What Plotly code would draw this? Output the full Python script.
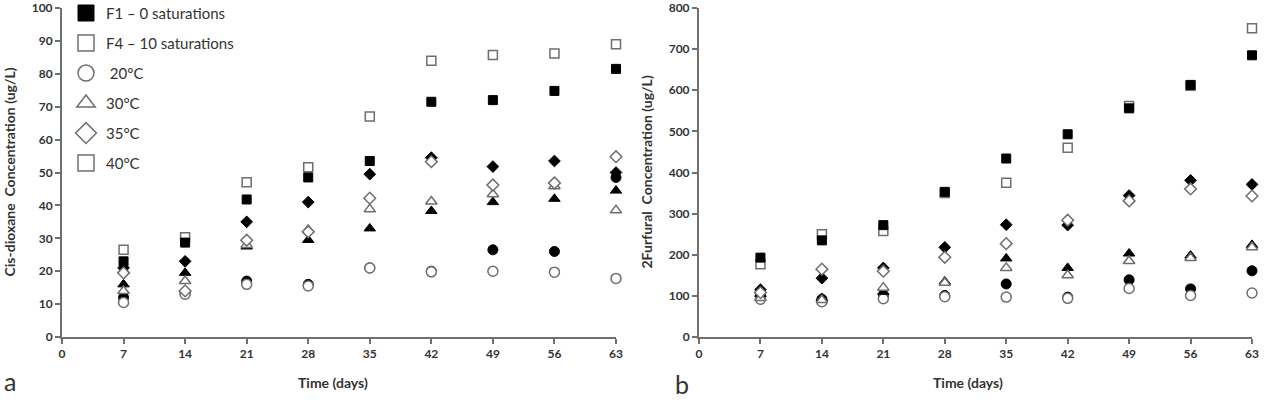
import plotly.graph_objects as go

days = [7, 14, 21, 28, 35, 42, 49, 56, 63]
x_ticks = [0, 7, 14, 21, 28, 35, 42, 49, 56, 63]
a_y_ticks = [0, 10, 20, 30, 40, 50, 60, 70, 80, 90, 100]
b_y_ticks = [0, 100, 200, 300, 400, 500, 600, 700, 800]

# Panel a: Cis-dioxane (ug/L)
a_F1_20 = [12, 13.5, 17, 16, 21, 20, 26.5, 26, 48.5]
a_F4_20 = [10.5, 13, 16, 15.5, 21, 19.8, 20, 19.7, 17.8]
a_F1_30 = [16, 19.5, 27.5, 29.5, 33, 38.3, 41, 42, 44.5]
a_F4_30 = [14, 17, 28, 32.5, 38.8, 41.2, 43.4, 45.8, 38.5]
a_F1_35 = [21, 23, 35, 41, 49.5, 54.5, 51.8, 53.5, 50]
a_F4_35 = [19.5, 14, 29.4, 32, 42.2, 53.3, 46.2, 46.8, 54.8]
a_F1_40 = [23, 28.7, 41.8, 48.5, 53.5, 71.5, 72, 74.8, 81.5]
a_F4_40 = [26.5, 30.3, 47, 51.6, 67, 84, 85.7, 86.2, 89]

# Panel b: 2Furfural (ug/L)
b_F1_20 = [100, 92, 100, 101, 129, 97, 139, 117, 161]
b_F4_20 = [92, 86, 93, 98, 97, 94, 118, 101, 107]
b_F1_30 = [105, 95, 110, 135, 191, 168, 203, 198, 224]
b_F4_30 = [95, 90, 120, 132, 168, 150, 185, 192, 218]
b_F1_35 = [115, 143, 168, 218, 273, 272, 344, 381, 371]
b_F4_35 = [108, 165, 160, 194, 227, 284, 331, 360, 343]
b_F1_40 = [193, 235, 272, 353, 434, 493, 556, 613, 685]
b_F4_40 = [177, 250, 258, 350, 375, 460, 562, 611, 751]

legend_labels = ["F1 \u2013 0 saturations", "F4 \u2013 10 saturations",
                 " 20\u00b0C", "30\u00b0C", "35\u00b0C", "40\u00b0C"]

W, H = 1266, 405
FONT = "Lato"
AX = "#6f6f6f"
OPEN_LINE = "#6e6e6e"
TXT = "#333333"

symbols = {"20": ("circle", 10), "30": ("triangle-up", 10),
           "35": ("diamond", 9), "40": ("square", 9)}

panels = {
    ("x", "y"): [("F1", "20", a_F1_20), ("F4", "20", a_F4_20),
                 ("F1", "30", a_F1_30), ("F4", "30", a_F4_30),
                 ("F1", "35", a_F1_35), ("F4", "35", a_F4_35),
                 ("F4", "40", a_F4_40), ("F1", "40", a_F1_40)],
    ("x2", "y2"): [("F1", "20", b_F1_20), ("F4", "20", b_F4_20),
                   ("F1", "30", b_F1_30), ("F4", "30", b_F4_30),
                   ("F1", "35", b_F1_35), ("F4", "35", b_F4_35),
                   ("F4", "40", b_F4_40), ("F1", "40", b_F1_40)],
}

fig = go.Figure()

for (xa, ya), series in panels.items():
    for form, temp, vals in series:
        sym, sz = symbols[temp]
        if form == "F1":
            mk = dict(symbol=sym, size=sz, color="black",
                      line=dict(color="black", width=1))
        else:
            mk = dict(symbol=sym, size=sz, color="white",
                      line=dict(color=OPEN_LINE, width=1.5))
        fig.add_trace(go.Scatter(x=days, y=vals, mode="markers", marker=mk,
                                 xaxis=xa, yaxis=ya, showlegend=False,
                                 cliponaxis=False,
                                 name=f"{form} {temp}\u00b0C"))

# legend-only entries
leg_markers = [
    dict(symbol="square", size=16, color="black", line=dict(color="black", width=1)),
    dict(symbol="square", size=16, color="white", line=dict(color=OPEN_LINE, width=1.5)),
    dict(symbol="circle", size=16, color="white", line=dict(color=OPEN_LINE, width=1.5)),
    dict(symbol="triangle-up", size=16, color="white", line=dict(color=OPEN_LINE, width=1.5)),
    dict(symbol="diamond", size=16, color="white", line=dict(color=OPEN_LINE, width=1.5)),
    dict(symbol="square", size=16, color="white", line=dict(color=OPEN_LINE, width=1.5)),
]
for i, (lab, mk) in enumerate(zip(legend_labels, leg_markers)):
    fig.add_trace(go.Scatter(x=[None], y=[None], mode="markers", marker=mk,
                             name=lab, legendgroup=f"g{i}", showlegend=True,
                             xaxis="x", yaxis="y"))

ydom = [(H - 337) / H, (H - 8) / H]
xdom1 = [62 / W, 616 / W]
xdom2 = [699 / W, 1252 / W]

tickfont = dict(family="Lato", size=12, color=TXT, weight=700)
axis_common = dict(showgrid=False, zeroline=False, showline=True,
                   linecolor=AX, linewidth=2, ticks="outside", ticklen=5,
                   tickcolor=AX, tickwidth=1.5, tickfont=tickfont,
                   automargin=False, ticklabeloverflow="allow")

fig.update_layout(
    width=W, height=H,
    margin=dict(l=0, r=0, t=0, b=0, autoexpand=False),
    paper_bgcolor="white", plot_bgcolor="white",
    font=dict(family=FONT, color=TXT),
    xaxis=dict(domain=xdom1, range=[0, 63], tickmode="array", tickvals=x_ticks,
               anchor="y", **axis_common),
    yaxis=dict(domain=ydom, range=[0, 100], tickmode="array", tickvals=a_y_ticks,
               anchor="x", **axis_common),
    xaxis2=dict(domain=xdom2, range=[0, 63], tickmode="array", tickvals=x_ticks,
                anchor="y2", **axis_common),
    yaxis2=dict(domain=ydom, range=[0, 800], tickmode="array", tickvals=b_y_ticks,
                anchor="x2", **axis_common),
    legend=dict(x=66 / W, y=1.008, xanchor="left", yanchor="top",
                bgcolor="rgba(0,0,0,0)", tracegroupgap=7.5,
                font=dict(family=FONT, size=15, color=TXT),
                itemsizing="trace"),
    showlegend=True,
)

title_font = dict(family="Lato", size=14, color=TXT, weight=700)
ycenter = (H - (8 + 337) / 2) / H
annotations = [
    dict(text="Cis-dioxane  Concentration (ug/L)", x=9 / W, y=ycenter,
         xref="paper", yref="paper", textangle=-90, showarrow=False,
         font=title_font, xanchor="center", yanchor="middle"),
    dict(text="2Furfural  Concentration (ug/L)", x=646 / W, y=ycenter,
         xref="paper", yref="paper", textangle=-90, showarrow=False,
         font=title_font, xanchor="center", yanchor="middle"),
    dict(text="Time (days)", x=333 / W, y=(H - 382) / H, xref="paper",
         yref="paper", showarrow=False, font=title_font,
         xanchor="center", yanchor="middle"),
    dict(text="Time (days)", x=968 / W, y=(H - 382) / H, xref="paper",
         yref="paper", showarrow=False, font=title_font,
         xanchor="center", yanchor="middle"),
    dict(text="a", x=10 / W, y=(H - 381) / H, xref="paper", yref="paper",
         showarrow=False, font=dict(family=FONT, size=25, color=TXT),
         xanchor="center", yanchor="middle"),
    dict(text="b", x=682 / W, y=(H - 384) / H, xref="paper", yref="paper",
         showarrow=False, font=dict(family=FONT, size=25, color=TXT),
         xanchor="center", yanchor="middle"),
]
fig.update_layout(annotations=annotations)

fig.write_html("out.html")
